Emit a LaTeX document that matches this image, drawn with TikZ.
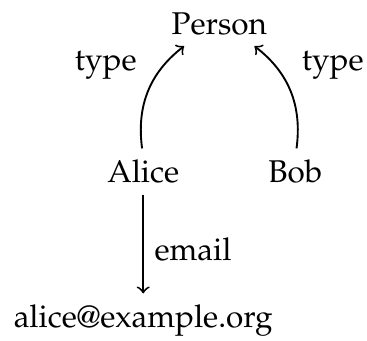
\documentclass[tikz,border=0pt]{standalone}
\usepackage[T1]{fontenc}
\usepackage{mathpazo}
\usepackage{tikz}

\begin{document}
\begin{tikzpicture}[>=to, semithick]
	\useasboundingbox (-1.60,-1.76) rectangle (2.50,2.04);
	\node[anchor=base] (alice) at (0,0) {Alice};
	\node[anchor=base] (bob) at (1.70,0) {Bob};
	\node[anchor=base] (person) at (0.85,1.66) {Person};
	\node[anchor=base] (mail) at (0,-1.62) {alice@example.org};
	\draw[->] (alice) to[bend left] node[pos=0.5,above left] (typeA) {type} (person);
	\draw[->] (bob) to[bend right] node[pos=0.5,above right] (typeB) {type} (person);
	\draw[->] (alice) -- node[pos=0.55,right] (emailLabel) {email} (mail);
\end{tikzpicture}
\end{document}
